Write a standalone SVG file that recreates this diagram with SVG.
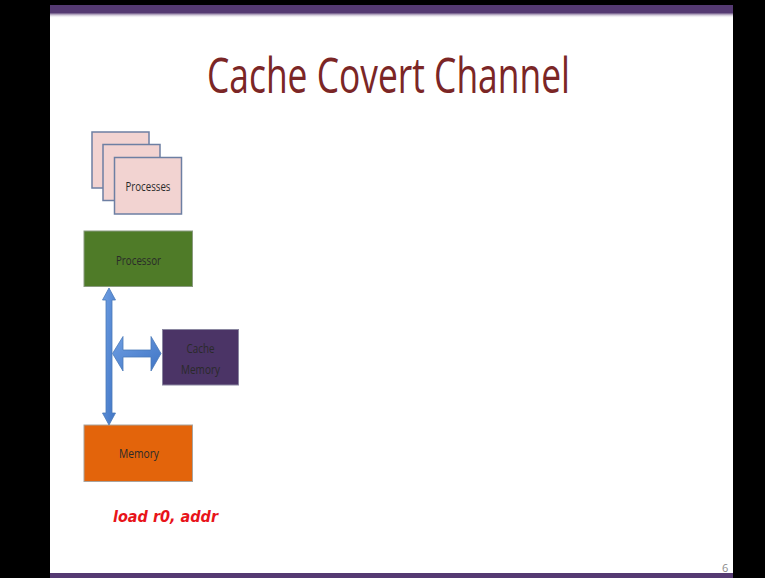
<svg xmlns="http://www.w3.org/2000/svg" width="765" height="578" viewBox="0 0 765 578">
<defs>
<style>
.lbl{font-family:"Open Sans","DejaVu Sans",sans-serif;font-size:13.5px;fill:#2a2a2a;text-anchor:middle}
.proc{fill:#f2d3d1;stroke:#6d7fa3;stroke-width:1.5}
.arrow{fill:url(#blue);stroke:#4a78b8;stroke-width:0.8}
</style>
<linearGradient id="bar" x1="0" y1="0" x2="0" y2="1">
<stop offset="0" stop-color="#553a72"/>
<stop offset="0.6" stop-color="#553a72"/>
<stop offset="1" stop-color="#ffffff" stop-opacity="0"/>
</linearGradient>
<linearGradient id="blue" x1="0" y1="0" x2="1" y2="1">
<stop offset="0" stop-color="#6f9fe3"/>
<stop offset="1" stop-color="#3f74c4"/>
</linearGradient>
</defs>
<rect x="0" y="0" width="765" height="578" fill="#000"/>
<rect x="50" y="5" width="683" height="573" fill="#fff"/>
<rect x="50" y="5" width="683" height="13" fill="url(#bar)"/>
<rect x="50" y="573" width="683" height="5" fill="#553a72"/>
<text x="388.5" y="93" font-family="'Open Sans','DejaVu Sans',sans-serif" font-size="50" fill="#7b2626" text-anchor="middle" textLength="363" lengthAdjust="spacingAndGlyphs">Cache Covert Channel</text>

<g id="processes">
<rect class="proc" x="92" y="132" width="57" height="56"/>
<rect class="proc" x="103" y="144.5" width="57" height="56"/>
<rect class="proc" x="114.5" y="157.5" width="67" height="56.5"/>
<text class="lbl" x="148" y="191" textLength="45" lengthAdjust="spacingAndGlyphs">Processes</text>
</g>
<g id="processor">
<rect x="84" y="231" width="108.5" height="55.5" fill="#4f7b28" stroke="#8a9a80" stroke-width="1"/>
<text class="lbl" x="138.5" y="265" textLength="45" lengthAdjust="spacingAndGlyphs">Processor</text>
</g>
<g id="cache">
<rect x="162.5" y="329.5" width="76" height="55.5" fill="#4b3466" stroke="#8a86a0" stroke-width="1"/>
<text class="lbl" x="200.5" y="353" textLength="28" lengthAdjust="spacingAndGlyphs">Cache</text>
<text class="lbl" x="200.5" y="374" textLength="39" lengthAdjust="spacingAndGlyphs">Memory</text>
</g>
<g id="memory">
<rect x="84" y="425" width="108.5" height="56.5" fill="#e3640b" stroke="#a8a39e" stroke-width="1"/>
<text class="lbl" x="139" y="458" textLength="40" lengthAdjust="spacingAndGlyphs">Memory</text>
</g>

<g id="connectors">
<polygon class="arrow" points="109,288 115.5,300 112,300 112,413 115.5,413 109,425 102.5,413 106,413 106,300 102.5,300"/>
<polygon class="arrow" points="112.5,353.5 123,336.5 123,350 151,350 151,336.5 161,353.5 151,371 151,357 123,357 123,371"/>
</g>

<text x="113" y="522" font-family="'DejaVu Sans',sans-serif" font-size="15" font-weight="bold" font-style="italic" fill="#e8141a" textLength="105" lengthAdjust="spacingAndGlyphs">load r0, addr</text>
<text x="722" y="572" font-family="'Open Sans',sans-serif" font-size="11" fill="#8a8a8a">6</text>
</svg>
